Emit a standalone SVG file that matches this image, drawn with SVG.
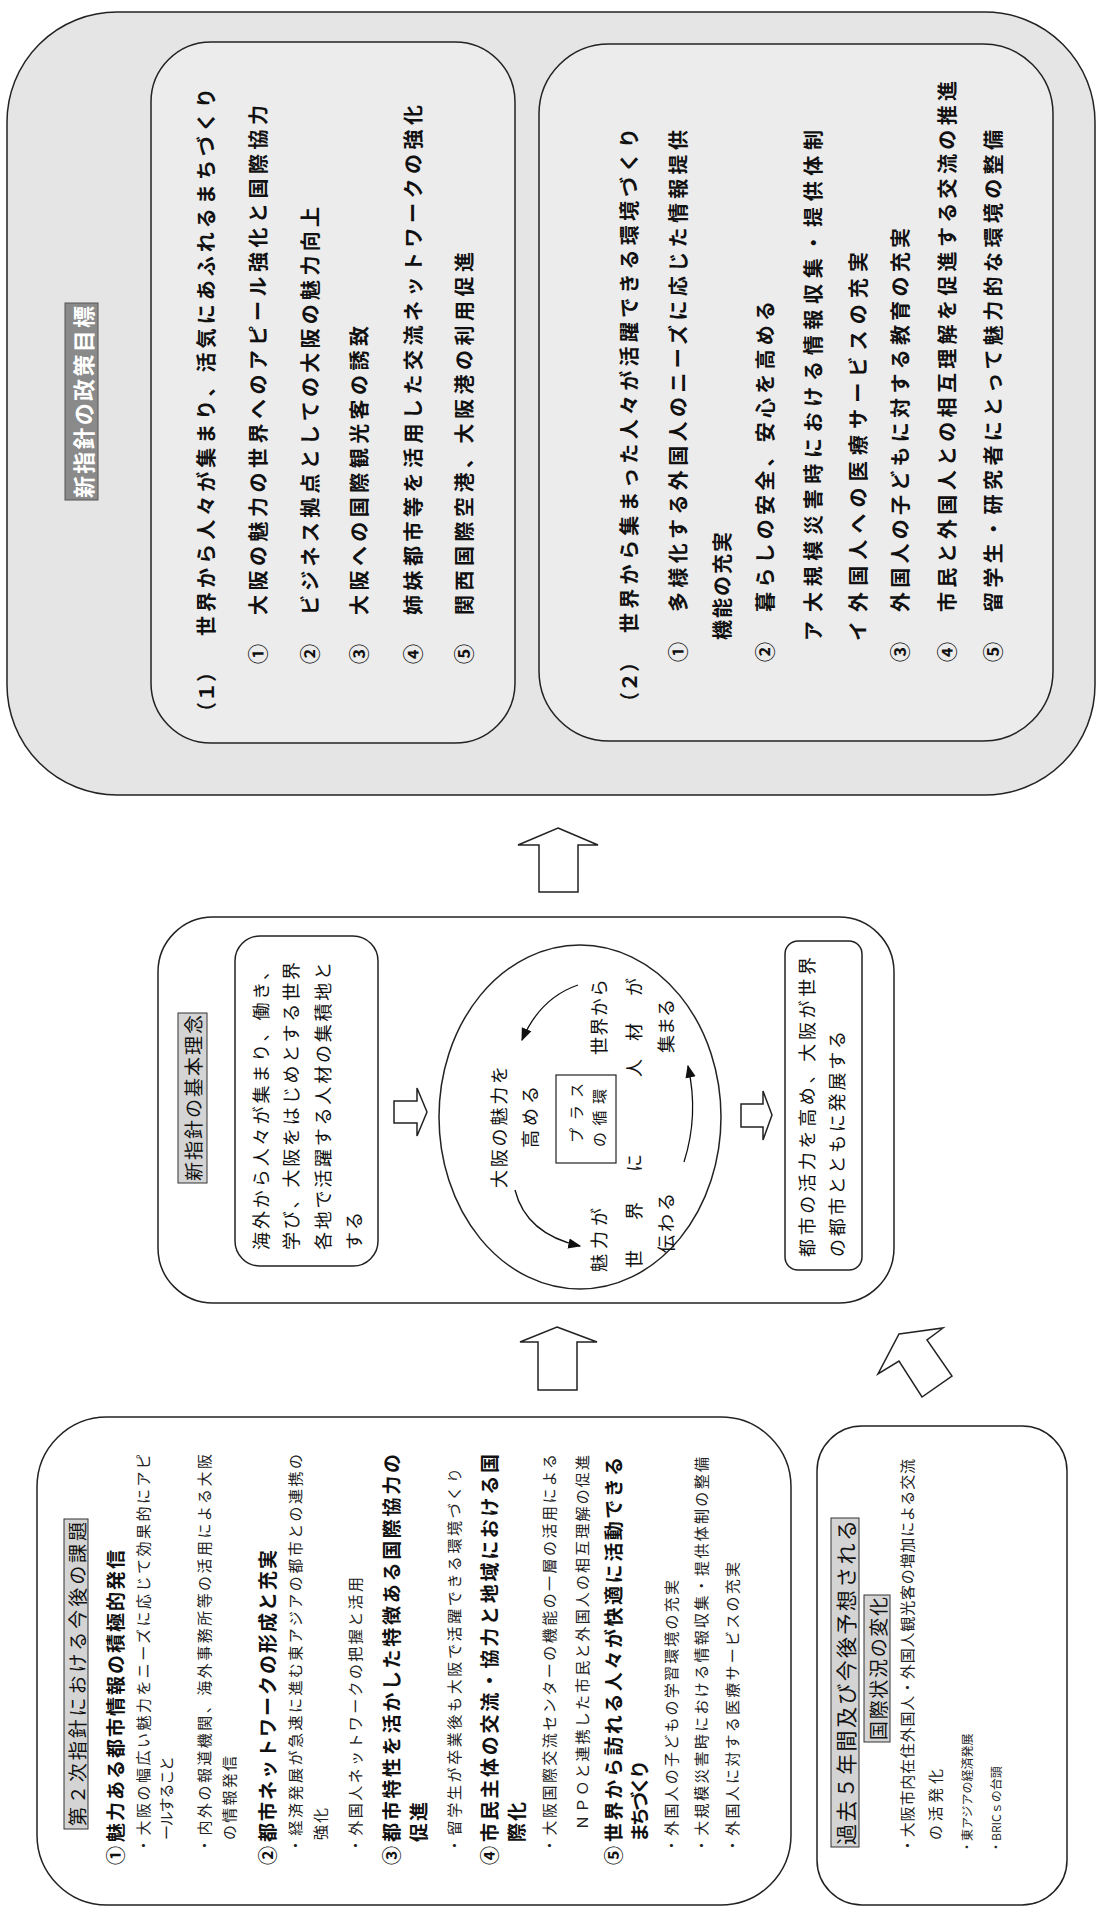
<svg xmlns="http://www.w3.org/2000/svg" width="1098" height="1908" viewBox="0 0 1098 1908">
<defs>
<style>
text{font-family:"Noto Sans CJK JP","Noto Sans CJK SC",sans-serif;fill:#111;dominant-baseline:central}
.p{font-size:20px;font-weight:700}
.c{font-size:18px}
.pl{font-size:15px}
.m{font-size:19px;font-weight:700}
.s{font-size:15px;fill:#222}
.xs{font-size:12px;fill:#222}
.lbl{font-size:19px}
.lbw{font-size:22px;font-weight:700;fill:#fff}
.box{fill:#fff;stroke:#222;stroke-width:1.5}
.gbox{fill:#e5e5e5;stroke:#222;stroke-width:1.5}
.gin{fill:#ececec;stroke:#222;stroke-width:1.5}
.tag{fill:#d4d4d4;stroke:#333;stroke-width:1}
.tagd{fill:#8a8a8a;stroke:#555;stroke-width:1}
.arrow{fill:#fff;stroke:#222;stroke-width:1.5;stroke-linejoin:miter}
.cyc{fill:none;stroke:#111;stroke-width:1.3;marker-end:url(#ah)}
</style>
<marker id="ah" viewBox="0 0 10 10" refX="9" refY="5" markerWidth="13" markerHeight="13" markerUnits="userSpaceOnUse" orient="auto"><path d="M0,1 L10,5 L0,9 z" fill="#111"/></marker>
</defs>
<rect x="0" y="0" width="1098" height="1908" fill="#fff"/>

<g id="policy-goals">
<rect class="gbox" x="7" y="12" width="1088" height="783" rx="110"/>
<rect class="tagd" x="65" y="303" width="33" height="197"/>
<text class="lbw" transform="translate(81.5,498) rotate(-90)" textLength="192" lengthAdjust="spacing">新指針の政策目標</text>

<g id="goal-1">
<rect class="gin" x="151" y="42" width="364" height="701" rx="60"/>
<text class="p" transform="translate(205,722) rotate(-90)">（１）</text>
<text class="p" transform="translate(205,636) rotate(-90)" textLength="548" lengthAdjust="spacing">世界から人々が集まり、活気にあふれるまちづくり</text>
<text class="p" transform="translate(257,664) rotate(-90)">①</text>
<text class="p" transform="translate(257,615) rotate(-90)" textLength="510" lengthAdjust="spacing">大阪の魅力の世界へのアピール強化と国際協力</text>
<text class="p" transform="translate(309,664) rotate(-90)">②</text>
<text class="p" transform="translate(309,615) rotate(-90)" textLength="408" lengthAdjust="spacing">ビジネス拠点としての大阪の魅力向上</text>
<text class="p" transform="translate(358,664) rotate(-90)">③</text>
<text class="p" transform="translate(358,615) rotate(-90)" textLength="289" lengthAdjust="spacing">大阪への国際観光客の誘致</text>
<text class="p" transform="translate(412,664) rotate(-90)">④</text>
<text class="p" transform="translate(412,615) rotate(-90)" textLength="510" lengthAdjust="spacing">姉妹都市等を活用した交流ネットワークの強化</text>
<text class="p" transform="translate(463,664) rotate(-90)">⑤</text>
<text class="p" transform="translate(463,615) rotate(-90)" textLength="363" lengthAdjust="spacing">関西国際空港、大阪港の利用促進</text>
</g>

<g id="goal-2">
<rect class="gin" x="539" y="44" width="514" height="697" rx="70"/>
<text class="p" transform="translate(628,712) rotate(-90)">（２）</text>
<text class="p" transform="translate(628,633) rotate(-90)" textLength="505" lengthAdjust="spacing">世界から集まった人々が活躍できる環境づくり</text>
<text class="p" transform="translate(677,662) rotate(-90)">①</text>
<text class="p" transform="translate(677,612) rotate(-90)" textLength="482" lengthAdjust="spacing">多様化する外国人のニーズに応じた情報提供</text>
<text class="p" transform="translate(721,640) rotate(-90)" textLength="108" lengthAdjust="spacing">機能の充実</text>
<text class="p" transform="translate(764,662) rotate(-90)">②</text>
<text class="p" transform="translate(764,612) rotate(-90)" textLength="311" lengthAdjust="spacing">暮らしの安全、安心を高める</text>
<text class="p" transform="translate(812,641) rotate(-90)">ア</text>
<text class="p" transform="translate(812,612) rotate(-90)" textLength="482" lengthAdjust="spacing">大規模災害時における情報収集・提供体制</text>
<text class="p" transform="translate(857,641) rotate(-90)">イ</text>
<text class="p" transform="translate(857,612) rotate(-90)" textLength="360" lengthAdjust="spacing">外国人への医療サービスの充実</text>
<text class="p" transform="translate(899,662) rotate(-90)">③</text>
<text class="p" transform="translate(899,612) rotate(-90)" textLength="384" lengthAdjust="spacing">外国人の子どもに対する教育の充実</text>
<text class="p" transform="translate(946,662) rotate(-90)">④</text>
<text class="p" transform="translate(946,612) rotate(-90)" textLength="531" lengthAdjust="spacing">市民と外国人との相互理解を促進する交流の推進</text>
<text class="p" transform="translate(992,662) rotate(-90)">⑤</text>
<text class="p" transform="translate(992,612) rotate(-90)" textLength="482" lengthAdjust="spacing">留学生・研究者にとって魅力的な環境の整備</text>
</g>
</g>

<g id="basic-concept">
<rect class="box" x="158" y="917" width="736" height="386" rx="55"/>
<rect class="tag" x="178" y="1013" width="29" height="170"/>
<text class="lbl" transform="translate(192.5,1181) rotate(-90)" textLength="166" lengthAdjust="spacing">新指針の基本理念</text>

<g id="concept-text">
<rect class="box" x="235" y="936" width="143" height="330" rx="25"/>
<text class="c" transform="translate(260,1250) rotate(-90)" textLength="288" lengthAdjust="spacing">海外から人々が集まり、働き、</text>
<text class="c" transform="translate(290,1250) rotate(-90)" textLength="288" lengthAdjust="spacing">学び、大阪をはじめとする世界</text>
<text class="c" transform="translate(322,1250) rotate(-90)" textLength="288" lengthAdjust="spacing">各地で活躍する人材の集積地と</text>
<text class="c" transform="translate(353,1250) rotate(-90)" textLength="38" lengthAdjust="spacing">する</text>
</g>

<g id="plus-cycle">
<ellipse fill="#fff" stroke="#222" stroke-width="1.5" cx="580" cy="1117" rx="141" ry="172"/>
<text class="c" transform="translate(498,1188) rotate(-90)" textLength="122" lengthAdjust="spacing">大阪の魅力を</text>
<text class="c" transform="translate(529,1148) rotate(-90)" textLength="62" lengthAdjust="spacing">高める</text>
<rect fill="#fff" stroke="#222" stroke-width="1.2" x="556" y="1075" width="60" height="88"/>
<text class="pl" transform="translate(575,1143) rotate(-90)" textLength="60" lengthAdjust="spacing">プラス</text>
<text class="pl" transform="translate(598,1147) rotate(-90)" textLength="58" lengthAdjust="spacing">の循環</text>
<text class="c" transform="translate(598,1055) rotate(-90)" textLength="76" lengthAdjust="spacing">世界から</text>
<text class="c" transform="translate(598,1272) rotate(-90)" textLength="64" lengthAdjust="spacing">魅力が</text>
<text class="c" text-anchor="middle" transform="translate(633,1259) rotate(-90)">世</text>
<text class="c" text-anchor="middle" transform="translate(633,1211) rotate(-90)">界</text>
<text class="c" text-anchor="middle" transform="translate(633,1163) rotate(-90)">に</text>
<text class="c" text-anchor="middle" transform="translate(633,1068) rotate(-90)">人</text>
<text class="c" text-anchor="middle" transform="translate(633,1032) rotate(-90)">材</text>
<text class="c" text-anchor="middle" transform="translate(633,987) rotate(-90)">が</text>
<text class="c" transform="translate(665,1253) rotate(-90)" textLength="60" lengthAdjust="spacing">伝わる</text>
<text class="c" transform="translate(665,1053) rotate(-90)" textLength="54" lengthAdjust="spacing">集まる</text>
<path class="cyc" d="M578,985 Q540,998 522,1040"/>
<path class="cyc" d="M515,1190 Q526,1234 580,1246"/>
<path class="cyc" d="M684,1162 Q699,1115 688,1066"/>
</g>

<g id="concept-result">
<rect class="box" x="785" y="941" width="77" height="329" rx="13"/>
<text class="c" transform="translate(806,1257) rotate(-90)" textLength="300" lengthAdjust="spacing">都市の活力を高め、大阪が世界</text>
<text class="c" transform="translate(836,1257) rotate(-90)" textLength="226" lengthAdjust="spacing">の都市とともに発展する</text>
</g>
</g>

<g id="issues">
<rect class="box" x="37" y="1417" width="754" height="488" rx="70"/>
<rect class="tag" x="64" y="1519" width="24" height="310"/>
<text class="lbl" transform="translate(76,1826) rotate(-90)" textLength="304" lengthAdjust="spacing">第２次指針における今後の課題</text>
<text class="m" transform="translate(114,1865) rotate(-90)">①</text>
<text class="m" transform="translate(114,1842) rotate(-90)" textLength="292" lengthAdjust="spacing">魅力ある都市情報の積極的発信</text>
<text class="s" transform="translate(142,1853) rotate(-90)" textLength="399" lengthAdjust="spacing">・大阪の幅広い魅力をニーズに応じて効果的にアピ</text>
<text class="s" transform="translate(165,1840) rotate(-90)" textLength="84" lengthAdjust="spacing">ールすること</text>
<text class="s" transform="translate(203,1853) rotate(-90)" textLength="399" lengthAdjust="spacing">・内外の報道機関、海外事務所等の活用による大阪</text>
<text class="s" transform="translate(228,1840) rotate(-90)" textLength="84" lengthAdjust="spacing">の情報発信</text>
<text class="m" transform="translate(266,1865) rotate(-90)">②</text>
<text class="m" transform="translate(266,1842) rotate(-90)" textLength="292" lengthAdjust="spacing">都市ネットワークの形成と充実</text>
<text class="s" transform="translate(294,1853) rotate(-90)" textLength="399" lengthAdjust="spacing">・経済発展が急速に進む東アジアの都市との連携の</text>
<text class="s" transform="translate(319,1840) rotate(-90)" textLength="32" lengthAdjust="spacing">強化</text>
<text class="s" transform="translate(354,1853) rotate(-90)" textLength="276" lengthAdjust="spacing">・外国人ネットワークの把握と活用</text>
<text class="m" transform="translate(390,1865) rotate(-90)">③</text>
<text class="m" transform="translate(390,1842) rotate(-90)" textLength="388" lengthAdjust="spacing">都市特性を活かした特徴ある国際協力の</text>
<text class="m" transform="translate(417,1842) rotate(-90)" textLength="40" lengthAdjust="spacing">促進</text>
<text class="s" transform="translate(453,1853) rotate(-90)" textLength="385" lengthAdjust="spacing">・留学生が卒業後も大阪で活躍できる環境づくり</text>
<text class="m" transform="translate(488,1865) rotate(-90)">④</text>
<text class="m" transform="translate(488,1842) rotate(-90)" textLength="388" lengthAdjust="spacing">市民主体の交流・協力と地域における国</text>
<text class="m" transform="translate(515,1842) rotate(-90)" textLength="40" lengthAdjust="spacing">際化</text>
<text class="s" transform="translate(548,1853) rotate(-90)" textLength="399" lengthAdjust="spacing">・大阪国際交流センターの機能の一層の活用による</text>
<text class="s" transform="translate(581,1830) rotate(-90)" textLength="375" lengthAdjust="spacing">ＮＰＯと連携した市民と外国人の相互理解の促進</text>
<text class="m" transform="translate(612,1865) rotate(-90)">⑤</text>
<text class="m" transform="translate(612,1842) rotate(-90)" textLength="385" lengthAdjust="spacing">世界から訪れる人々が快適に活動できる</text>
<text class="m" transform="translate(638,1842) rotate(-90)" textLength="82" lengthAdjust="spacing">まちづくり</text>
<text class="s" transform="translate(670,1853) rotate(-90)" textLength="273" lengthAdjust="spacing">・外国人の子どもの学習環境の充実</text>
<text class="s" transform="translate(700,1853) rotate(-90)" textLength="396" lengthAdjust="spacing">・大規模災害時における情報収集・提供体制の整備</text>
<text class="s" transform="translate(731,1853) rotate(-90)" textLength="291" lengthAdjust="spacing">・外国人に対する医療サービスの充実</text>
</g>

<g id="world-change">
<rect class="box" x="817" y="1426" width="250" height="479" rx="45"/>
<rect class="tag" x="831" y="1518" width="28" height="329"/>
<text class="lbl" style="font-size:21px" transform="translate(845,1845) rotate(-90)" textLength="325" lengthAdjust="spacing">過去５年間及び今後予想される</text>
<rect class="tag" x="864" y="1595" width="26" height="147"/>
<text class="lbl" transform="translate(877,1740) rotate(-90)" textLength="143" lengthAdjust="spacing">国際状況の変化</text>
<text class="s" transform="translate(906,1853) rotate(-90)" textLength="394" lengthAdjust="spacing">・大阪市内在住外国人・外国人観光客の増加による交流</text>
<text class="s" transform="translate(934,1840) rotate(-90)" textLength="71" lengthAdjust="spacing">の活発化</text>
<text class="xs" transform="translate(966,1853) rotate(-90)">・東アジアの経済発展</text>
<text class="xs" transform="translate(995,1853) rotate(-90)">・BRICｓの台頭</text>
</g>

<g id="connectors">
<polygon class="arrow" points="558,828 598,845 578,845 578,892 539,892 539,845 518,845"/>
<polygon class="arrow" points="557,1327 597,1342 577,1342 577,1390 538,1390 538,1342 520,1342"/>
<polygon class="arrow" points="899,1334 943,1328 927,1340 952,1376 922,1397 899,1361 878,1374"/>
<polygon class="arrow" points="394,1101 417,1101 417,1088 427,1112 417,1136 417,1123 394,1123"/>
<polygon class="arrow" points="741,1104 763,1104 763,1091 772,1115 763,1140 763,1127 741,1127"/>
</g>
</svg>
